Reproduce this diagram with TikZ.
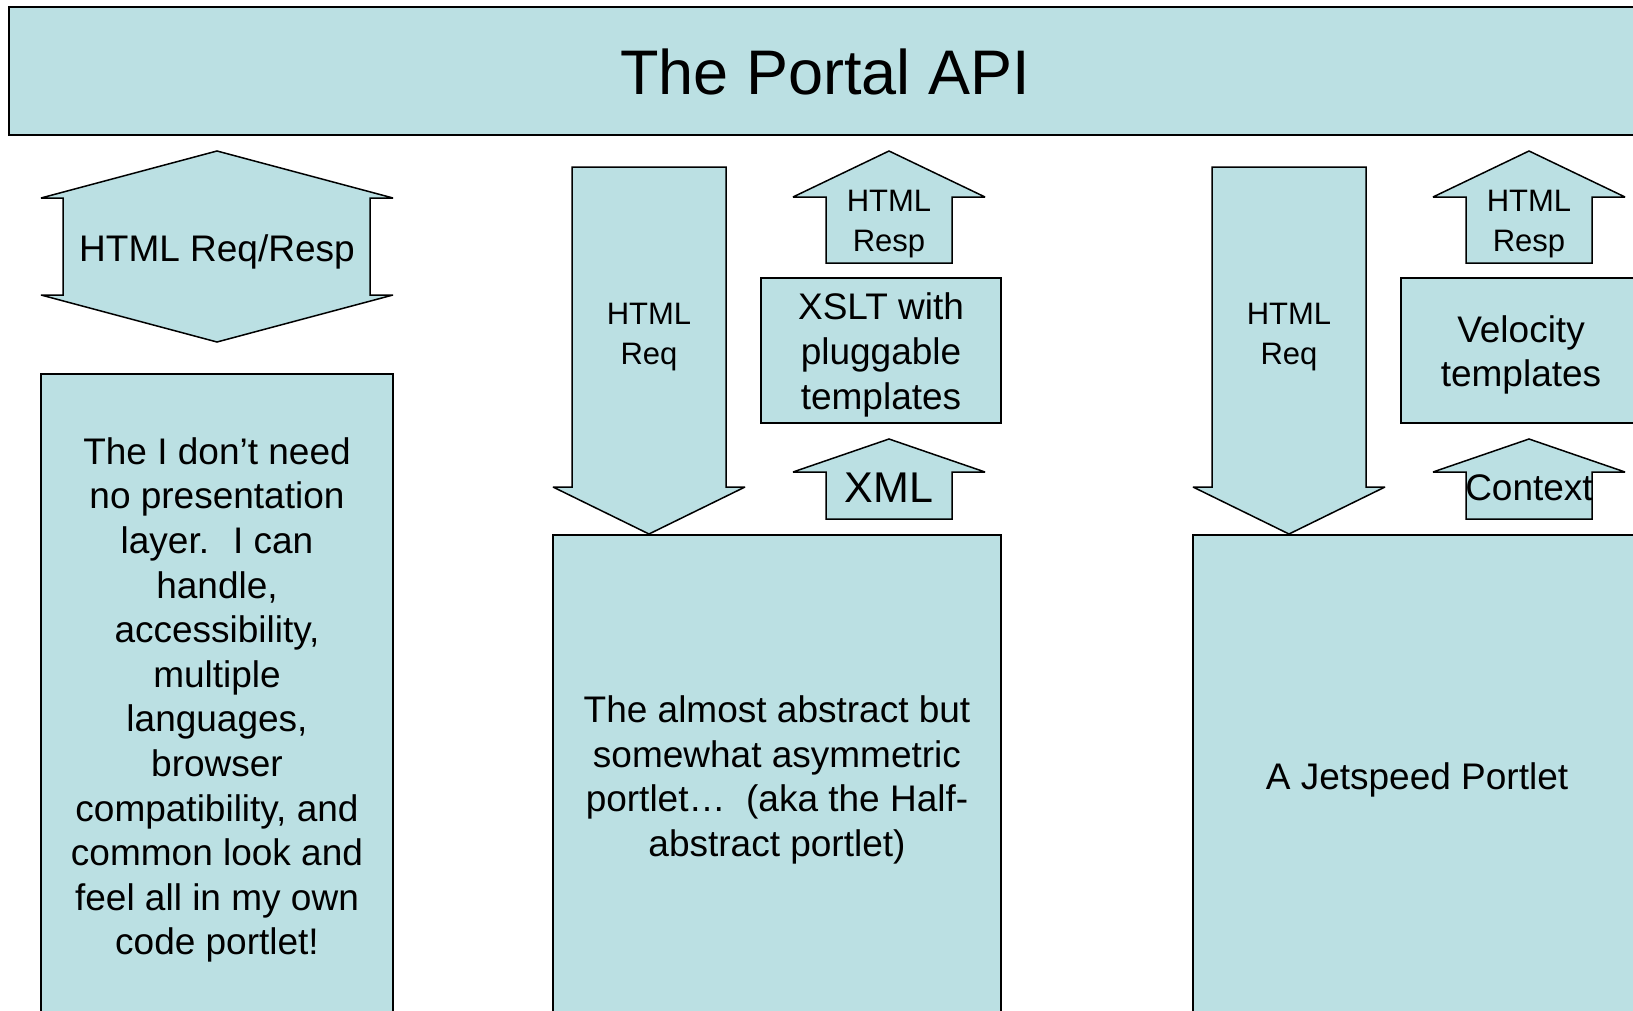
\documentclass[tikz,border=0pt]{standalone}
\usepackage{fontspec}
\setmainfont{Liberation Sans}
\definecolor{portal}{HTML}{BBE0E3}

\begin{document}
\begin{tikzpicture}[x=0.5pt, y=-0.5pt,
  box/.style={draw, fill=portal, line width=0.75pt, line join=miter, miter limit=2},
  lbl/.style={align=center, inner sep=0pt, yshift=-2pt, font=\fontsize{18.5}{22.3}\selectfont},
  small/.style={align=center, inner sep=0pt, yshift=-2pt, font=\fontsize{15.5}{19.8}\selectfont}]
\useasboundingbox (0,0) rectangle (1633,1011);
\clip (0,0) rectangle (1633,1011);
% banner
\draw[box, line width=1.2pt] (9,7) rectangle (1641,135);
\node[inner sep=0pt, font=\fontsize{31.5}{36}\selectfont] (title) at (825,72) {The Portal API};

% left column
\draw[box] (217,151) -- (393,198) -- (370,198) -- (370,295) -- (393,295) -- (217,342)
  -- (41,295) -- (63,295) -- (63,198) -- (41,198) -- cycle;
\node[lbl] (reqresp) at (217,248) {HTML Req/Resp};
\draw[box] (41,374) rectangle (393,1020);
\node[lbl] (own) at (217,696) {The I don’t need\\no presentation\\layer.~ I can\\handle,\\accessibility,\\multiple\\languages,\\browser\\compatibility, and\\common look and\\feel all in my own\\code portlet!};

% middle column
\draw[box] (572,167) -- (726,167) -- (726,487) -- (745,487) -- (649,534) -- (553,487)
  -- (572,487) -- cycle;
\node[small] (req1) at (649,333) {HTML\\Req};
\draw[box] (889,151) -- (985,197) -- (952,197) -- (952,263) -- (826,263) -- (826,197)
  -- (793,197) -- cycle;
\node[small] (resp1) at (889,220) {HTML\\Resp};
\draw[box] (761,278) rectangle (1001,423);
\node[lbl] (xslt) at (881,351) {XSLT with\\pluggable\\templates};
\draw[box] (889,439) -- (985,472) -- (952,472) -- (952,519) -- (826,519) -- (826,472)
  -- (793,472) -- cycle;
\node[inner sep=0pt, font=\fontsize{21.5}{24}\selectfont] (xml) at (889,488) {XML};
\draw[box] (553,535) rectangle (1001,1020);
\node[lbl] (half) at (777,776) {The almost abstract but\\somewhat asymmetric\\portlet…~ (aka the Half-\\abstract portlet)};

% right column
\draw[box] (1212,167) -- (1366,167) -- (1366,487) -- (1385,487) -- (1289,534) -- (1193,487)
  -- (1212,487) -- cycle;
\node[small] (req2) at (1289,333) {HTML\\Req};
\draw[box] (1529,151) -- (1625,197) -- (1592,197) -- (1592,263) -- (1466,263) -- (1466,197)
  -- (1433,197) -- cycle;
\node[small] (resp2) at (1529,220) {HTML\\Resp};
\draw[box] (1401,278) rectangle (1641,423);
\node[lbl] (velocity) at (1521,351) {Velocity\\templates};
\draw[box] (1529,439) -- (1625,472) -- (1592,472) -- (1592,519) -- (1466,519) -- (1466,472)
  -- (1433,472) -- cycle;
\node[lbl, yshift=2pt] (context) at (1529,488) {Context};
\draw[box] (1193,535) rectangle (1641,1020);
\node[lbl] (jetspeed) at (1417,776) {A Jetspeed Portlet};
\end{tikzpicture}
\end{document}
